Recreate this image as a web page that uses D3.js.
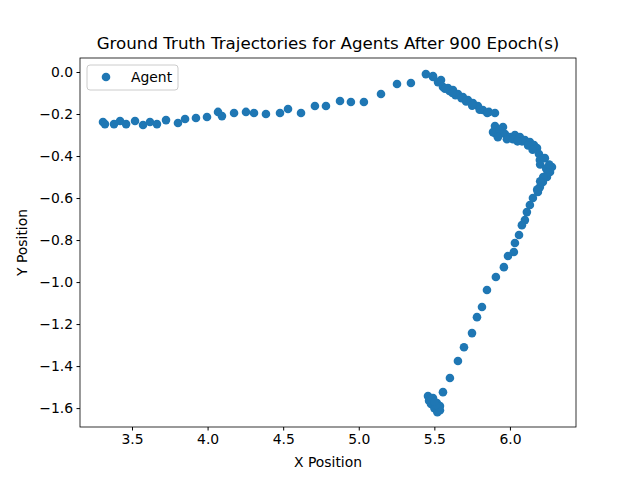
<!DOCTYPE html>
<html><head><meta charset="utf-8">
<script src="https://cdn.jsdelivr.net/npm/d3@7"></script>
<style>body{margin:0;background:#fff}text{font-family:"DejaVu Sans",sans-serif}</style>
</head><body><svg id="c" width="640" height="480"></svg>
<script>
// trajectory x positions
const xs = [3.308,3.321,3.381,3.421,3.461,3.520,3.573,3.619,3.665,3.725,3.804,3.851,3.923,3.996,4.069,4.095,4.175,4.254,4.307,4.386,4.479,4.532,4.618,4.710,4.783,4.876,4.948,5.034,5.147,5.253,5.345,5.444,5.491,5.544,
  5.491,5.524,5.557,5.590,5.623,5.656,5.689,5.722,5.755,5.788,5.821,5.861,5.901,5.888,5.901,5.921,5.954,5.967,6.000,6.033,6.066,6.099,6.132,6.159,6.179,6.192,6.198,6.231,6.278,6.265,6.245,6.218,6.198,
  5.600,5.640,5.680,5.710,5.750,5.800,5.850,5.900,5.930,5.980,6.020,6.080,6.120,6.150,6.200,6.240,6.260,6.250,6.220,6.200,6.180,5.570,5.620,5.920,6.050,
  6.185,6.152,6.132,6.112,6.099,6.079,6.060,6.033,6.026,5.987,5.960,5.907,5.848,5.815,5.782,5.749,5.696,5.656,5.603,5.557,
  5.458,5.471,5.484,5.497,5.511,5.524,5.537,5.517,5.491,5.537,5.465,5.478,5.500,5.520,5.530,5.510,5.480,5.500];
// trajectory y positions
const ys = [-0.238,-0.248,-0.248,-0.233,-0.248,-0.233,-0.252,-0.238,-0.248,-0.229,-0.243,-0.224,-0.219,-0.214,-0.190,-0.210,-0.195,-0.190,-0.195,-0.200,-0.195,-0.176,-0.195,-0.162,-0.162,-0.138,-0.143,-0.143,-0.105,-0.057,-0.052,-0.010,-0.019,-0.038,
  -0.024,-0.048,-0.071,-0.076,-0.086,-0.105,-0.119,-0.133,-0.148,-0.162,-0.181,-0.190,-0.195,-0.286,-0.257,-0.300,-0.262,-0.295,-0.310,-0.300,-0.310,-0.324,-0.333,-0.348,-0.362,-0.390,-0.419,-0.410,-0.452,-0.476,-0.500,-0.524,-0.548,
  -0.090,-0.110,-0.125,-0.140,-0.160,-0.180,-0.195,-0.290,-0.275,-0.320,-0.320,-0.330,-0.350,-0.370,-0.440,-0.460,-0.440,-0.480,-0.500,-0.520,-0.560,-0.080,-0.100,-0.310,-0.330,
  -0.571,-0.600,-0.633,-0.667,-0.705,-0.729,-0.776,-0.814,-0.857,-0.876,-0.929,-0.976,-1.038,-1.119,-1.167,-1.243,-1.310,-1.376,-1.457,-1.524,
  -1.543,-1.557,-1.571,-1.586,-1.600,-1.610,-1.610,-1.576,-1.552,-1.590,-1.565,-1.580,-1.600,-1.620,-1.595,-1.585,-1.560,-1.570];
const xTicks = [3.5,4.0,4.5,5.0,5.5,6.0];
const yTicks = [0.0,-0.2,-0.4,-0.6,-0.8,-1.0,-1.2,-1.4,-1.6];

const L=80,R=576,T=58,B=427;
const svg=d3.select("#c");
const x=d3.scaleLinear().domain([3.156,6.437]).range([L,R]);
const y=d3.scaleLinear().domain([-1.69,0.0667]).range([B,T]);

svg.append("g").selectAll("circle").data(xs).join("circle")
  .attr("cx",d=>x(d)).attr("cy",(d,i)=>y(ys[i])).attr("r",4.3).attr("fill","#1f77b4");

const fmt=d=>d.toFixed(1).replace("-","\u2212");
const ax=svg.append("g").attr("transform",`translate(0,${B})`)
  .call(d3.axisBottom(x).tickValues(xTicks).tickFormat(fmt).tickSize(3.5).tickPadding(3.5));
const ay=svg.append("g").attr("transform",`translate(${L},0)`)
  .call(d3.axisLeft(y).tickValues(yTicks).tickFormat(fmt).tickSize(3.5).tickPadding(3.5));
[ax,ay].forEach(a=>{a.select(".domain").remove();a.selectAll("text").attr("font-size",13.9).attr("font-family","DejaVu Sans").attr("fill","#000");a.selectAll("line").attr("stroke","#000");});
svg.append("rect").attr("x",L).attr("y",T).attr("width",R-L).attr("height",B-T).attr("fill","none").attr("stroke","#000").attr("stroke-width",0.8);

svg.append("text").attr("x",(L+R)/2).attr("y",49).attr("text-anchor","middle").attr("font-size",16.7).text("Ground Truth Trajectories for Agents After 900 Epoch(s)");
svg.append("text").attr("x",(L+R)/2).attr("y",467).attr("text-anchor","middle").attr("font-size",13.9).text("X Position");
svg.append("text").attr("transform",`translate(27,${(T+B)/2}) rotate(-90)`).attr("text-anchor","middle").attr("font-size",13.9).text("Y Position");

const lg=svg.append("g");
lg.append("rect").attr("x",87).attr("y",65).attr("width",91).attr("height",25).attr("rx",3).attr("fill","#fff").attr("fill-opacity",0.8).attr("stroke","#ccc");
lg.append("circle").attr("cx",106).attr("cy",77).attr("r",4.3).attr("fill","#1f77b4");
lg.append("text").attr("x",131).attr("y",82).attr("font-size",13.9).text("Agent");
</script></body></html>
